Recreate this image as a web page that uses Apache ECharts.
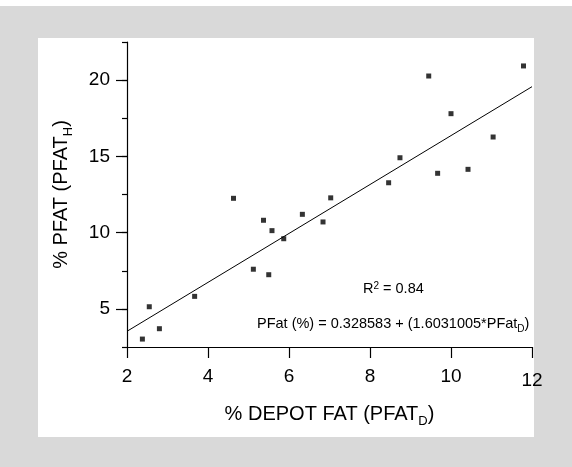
<!DOCTYPE html>
<html>
<head>
<meta charset="utf-8">
<script src="https://cdn.jsdelivr.net/npm/echarts@6/dist/echarts.min.js"></script>
<style>
  html, body { margin: 0; padding: 0; background: #ffffff; }
  #chart { width: 572px; height: 467px; }
</style>
</head>
<body>
<div id="chart"></div>
<script>
// Data
var depotFat = [2.38, 2.55, 2.80, 3.67, 4.63, 5.12, 5.37, 5.50, 5.58, 5.87, 6.33, 6.84, 7.03, 8.46, 8.74, 9.45, 9.67, 10.0, 10.42, 11.04, 11.79];
var pfatH    = [3.02, 5.14, 3.70, 5.82, 12.25, 7.60, 10.81, 7.24, 10.13, 9.60, 11.20, 10.70, 12.28, 13.27, 14.91, 20.27, 13.89, 17.80, 14.15, 16.27, 20.93];
var fitX = [2, 12];
var fitY = [3.53, 19.57];
var xTicks = [2, 4, 6, 8, 10, 12];
var yTicks = [5, 10, 15, 20];

var FONT = "'Liberation Sans', Arial, Helvetica, sans-serif";
var points = depotFat.map(function (x, i) { return [x, pfatH[i]]; });
var fitLine = fitX.map(function (x, i) { return [x, fitY[i]]; });

var chart = echarts.init(document.getElementById('chart'), null, { renderer: 'canvas' });
var option = {
  backgroundColor: '#ffffff',
  animation: false,
  textStyle: { fontFamily: FONT, color: '#000' },
  graphic: [
    { type: 'rect', z: -10, silent: true, shape: { x: 0, y: 6, width: 572, height: 461 }, style: { fill: '#d9d9d9' } },
    { type: 'rect', z: -9, silent: true, shape: { x: 38, y: 38, width: 496, height: 399 }, style: { fill: '#ffffff' } },
    { type: 'text', z: 10, left: 363, top: 281,
      style: { text: 'R{sup|2} = 0.84', fontSize: 14.5, fontFamily: FONT, fill: '#000',
        rich: { sup: { fontSize: 10, fontFamily: FONT, fill: '#000', padding: [0, 0, 6, 0] } } } },
    { type: 'text', z: 10, left: 257, top: 316,
      style: { text: 'PFat (%) = 0.328583 + (1.6031005*PFat{sub|D})', fontSize: 14.5, fontFamily: FONT, fill: '#000',
        rich: { sub: { fontSize: 10, fontFamily: FONT, fill: '#000', padding: [11, 0, 0, 0] } } } }
  ],
  grid: { left: 127, right: 40, top: 42, bottom: 120, containLabel: false },
  xAxis: {
    type: 'value', min: 2, max: 12, interval: 2,
    splitLine: { show: false },
    axisLine: { show: true, lineStyle: { color: '#000', width: 1.2 } },
    axisTick: { show: true, length: 11, lineStyle: { color: '#000', width: 1.2 } },
    axisLabel: {
      margin: 20, fontSize: 19, fontFamily: FONT, color: '#000',
      formatter: function (v) { return xTicks.indexOf(v) >= 0 ? (v === 12 ? '{lo|12}' : String(v)) : ''; },
      rich: { lo: { fontSize: 19, fontFamily: FONT, color: '#000', padding: [4, 0, 0, 0] } }
    },
    name: '% DEPOT FAT (PFAT{s|D})', nameLocation: 'middle', nameGap: 54,
    nameTextStyle: { fontSize: 20, fontFamily: FONT, color: '#000',
      rich: { s: { fontSize: 13, fontFamily: FONT, color: '#000', padding: [14, 0, 0, 0] } } }
  },
  yAxis: [
    {
      type: 'value', min: 2.5, max: 22.5, interval: 2.5,
      splitLine: { show: false },
      axisLine: { show: true, lineStyle: { color: '#000', width: 1.2 } },
      axisTick: { show: true, length: 5, lineStyle: { color: '#000', width: 1.2 } },
      axisLabel: {
        margin: 17, fontSize: 19, fontFamily: FONT, color: '#000',
        formatter: function (v) { return yTicks.indexOf(v) >= 0 ? String(v) : ''; }
      },
      name: '% PFAT (PFAT{s|H})', nameLocation: 'middle', nameGap: 52,
      nameTextStyle: { fontSize: 20, fontFamily: FONT, color: '#000',
        rich: { s: { fontSize: 13, fontFamily: FONT, color: '#000', padding: [14, 0, 0, 0] } } }
    },
    {
      type: 'value', min: 2.5, max: 22.5, interval: 5, position: 'left',
      splitLine: { show: false },
      axisLine: { show: false },
      axisTick: { show: false },
      axisLabel: { show: false },
      minorTick: { show: true, splitNumber: 2, length: 11, lineStyle: { color: '#000', width: 1.2 } },
      minorSplitLine: { show: false }
    }
  ],
  series: [
    {
      type: 'line', data: fitLine, yAxisIndex: 0, showSymbol: false, symbol: 'none',
      lineStyle: { color: '#000', width: 1 }, silent: true, z: 2
    },
    {
      type: 'scatter', data: points, yAxisIndex: 0, symbol: 'rect', symbolSize: 5,
      itemStyle: { color: '#000' }, z: 3
    }
  ]
};
chart.setOption(option);
</script>
</body>
</html>
